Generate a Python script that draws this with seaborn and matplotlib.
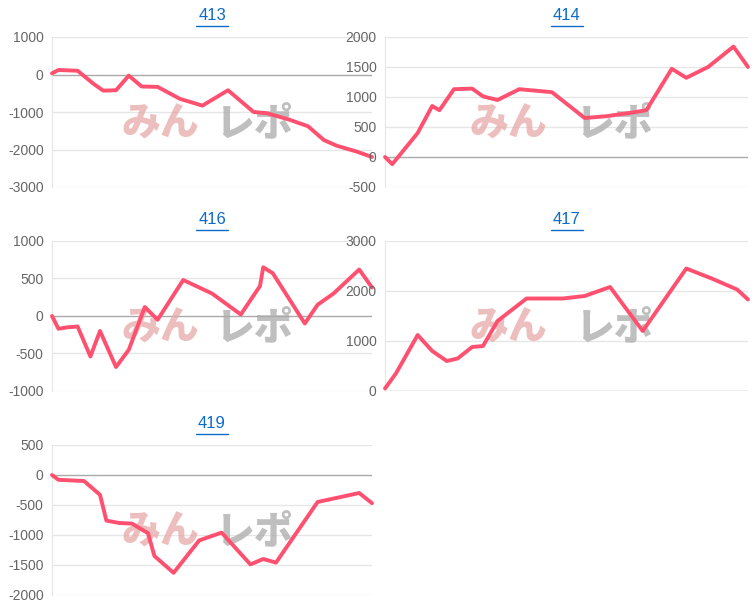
import matplotlib
matplotlib.use("Agg")
import matplotlib.pyplot as plt
import seaborn as sns
import pandas as pd

# machine numbers and their payout curves (x = game progress, y = medals)
names = ["413", "414", "416", "417", "419"]
x413 = [0, 2, 8, 13, 16, 20, 24, 28, 33, 40, 47, 55, 63, 67, 74, 80, 85, 89, 95, 100]
y413 = [30, 120, 100, -250, -430, -420, -30, -320, -330, -650, -830, -420, -1000, -1030, -1200, -1380, -1750, -1900, -2050, -2200]
x414 = [0, 2, 9, 13, 15, 19, 24, 27, 31, 37, 46, 55, 61, 68, 72, 79, 83, 89, 96, 100]
y414 = [0, -120, 400, 850, 780, 1130, 1140, 1010, 950, 1130, 1080, 650, 680, 740, 780, 1470, 1320, 1500, 1840, 1500]
x416 = [0, 2, 5, 8, 12, 15, 20, 24, 29, 33, 41, 50, 59, 65, 66, 69, 79, 83, 88, 96, 100]
y416 = [0, -170, -150, -140, -540, -200, -680, -450, 120, -50, 480, 300, 20, 400, 650, 570, -100, 150, 300, 620, 380]
x417 = [0, 3, 9, 13, 17, 20, 24, 27, 31, 39, 49, 55, 62, 71, 83, 90, 97, 100]
y417 = [50, 350, 1120, 800, 600, 650, 880, 900, 1400, 1850, 1850, 1900, 2080, 1200, 2450, 2250, 2030, 1830]
x419 = [0, 2, 10, 15, 17, 21, 25, 30, 32, 38, 46, 53, 62, 66, 70, 83, 96, 100]
y419 = [0, -80, -100, -330, -760, -800, -810, -970, -1350, -1630, -1090, -960, -1490, -1400, -1460, -450, -300, -470]

xs = [x413, x414, x416, x417, x419]
ys = [y413, y414, y416, y417, y419]
ylims = [(-3000, 1000), (-500, 2000), (-1000, 1000), (0, 3000), (-2000, 500)]
steps = [1000, 500, 500, 1000, 500]

sns.set_style("white")
plt.rcParams['font.family'] = ['Noto Sans CJK JP', 'DejaVu Sans']

fig = plt.figure(figsize=(7.54, 6.12), dpi=100)
W, H = 754, 612
boxes = [(52, 37, 320), (385, 37, 363), (52, 241, 320), (385, 241, 363), (52, 445, 320)]

for i, name in enumerate(names):
    left, top, width = boxes[i]
    ax = fig.add_axes([left / W, 1 - (top + 150) / H, width / W, 150 / H])
    df = pd.DataFrame({"x": xs[i], "y": ys[i]})
    lo, hi = ylims[i]
    ticks = list(range(lo, hi + 1, steps[i]))
    for t in ticks:
        ax.axhline(t, color="#aaaaaa" if t == 0 else "#e6e6e6", lw=1, zorder=0)
    sns.lineplot(data=df, x="x", y="y", ax=ax, color="#ff5070", lw=2.8, zorder=3, clip_on=False)
    ax.set_xlim(0, 100)
    ax.set_ylim(lo, hi)
    ax.set_yticks(ticks)
    ax.set_yticklabels([str(t) for t in ticks], color="#666666", fontsize=10, family="Liberation Sans")
    ax.set_xticks([])
    ax.set_xlabel("")
    ax.set_ylabel("")
    ax.tick_params(axis="y", length=0, pad=6)
    for s in ["top", "right", "bottom"]:
        ax.spines[s].set_visible(False)
    ax.spines["left"].set_color("#e6e6e6")
    # linked title with underline
    ax.text(0.5, 1.09, name, transform=ax.transAxes, ha="center", va="bottom",
            color="#0b6bcb", fontsize=12, family="Liberation Sans")
    hw = 16 / width
    ax.plot([0.5 - hw, 0.5 + hw], [1.075, 1.075], transform=ax.transAxes,
            color="#0b6bcb", lw=1, clip_on=False)
    # watermark
    ax.text(0.34, 0.42, "みん", transform=ax.transAxes, fontsize=28, fontweight="black",
            color="#e8a8a8", alpha=0.75, ha="center", va="center", zorder=1)
    ax.text(0.63, 0.42, "レポ", transform=ax.transAxes, fontsize=28, fontweight="black",
            color="#aaaaaa", alpha=0.75, ha="center", va="center", zorder=1)

fig.savefig("out.png", dpi=100)
